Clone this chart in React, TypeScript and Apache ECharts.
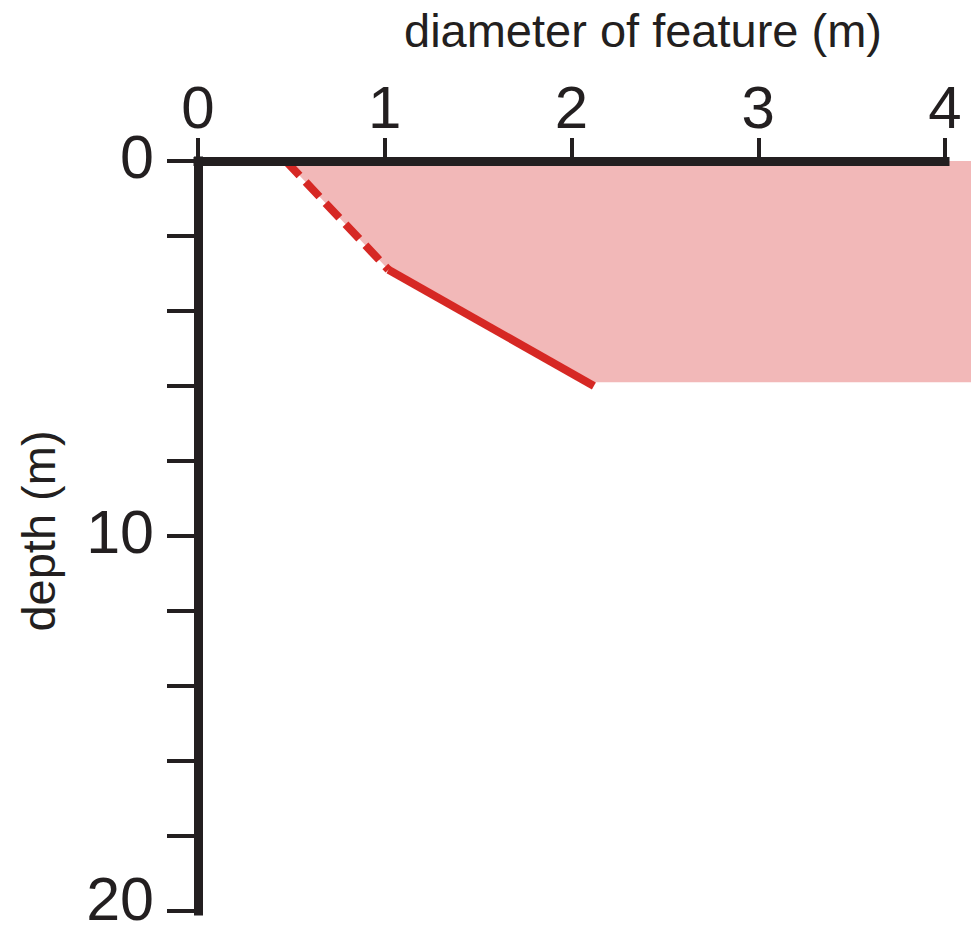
import React, { useEffect, useRef } from "react";
import * as echarts from "echarts";

// Diameter (m) vs depth (m) of the feature
const xTicks = [0, 1, 2, 3, 4];
const depthLabels = [0, 10, 20];

// Inferred (dashed) upper part of the profile
const dashedProfile: [number, number][] = [
  [0.47, 0],
  [1.02, 2.9],
];
// Observed (solid) lower part of the profile
const solidProfile: [number, number][] = [
  [1.02, 2.9],
  [2.12, 6.0],
];
// Shaded extent of the feature
const featureArea: [number, number][] = [
  [0.47, 0],
  [4.14, 0],
  [4.14, 5.9],
  [2.12, 5.9],
  [1.02, 2.9],
];

const INK = "#231f20";
const RED = "#d62824";
const PINK = "#f2b8b8";
const FONT = "Liberation Sans, Arial, sans-serif";
const DEPTH_MAX = 20;

export default function App() {
  const ref = useRef<HTMLDivElement>(null);

  useEffect(() => {
    if (!ref.current) return;
    const chart = echarts.init(ref.current, undefined, { renderer: "svg" });
    chart.setOption({
      animation: false,
      backgroundColor: "#ffffff",
      grid: { left: 198, right: 26, top: 161, bottom: 23 },
      xAxis: {
        type: "value",
        position: "top",
        min: 0,
        max: 4,
        interval: 1,
        z: 5,
        splitLine: { show: false },
        axisLine: { show: true, lineStyle: { color: INK, width: 9, cap: "square" } },
        axisTick: { show: true, length: 23, lineStyle: { color: INK, width: 4 } },
        axisLabel: {
          margin: 24,
          fontSize: 60,
          lineHeight: 60,
          fontFamily: FONT,
          color: INK,
          formatter: (v: number) => (xTicks.includes(v) ? String(v) : ""),
        },
      },
      yAxis: {
        type: "value",
        inverse: true,
        min: 0,
        max: DEPTH_MAX,
        interval: 2,
        z: 5,
        splitLine: { show: false },
        axisLine: { show: true, lineStyle: { color: INK, width: 9, cap: "square" } },
        axisTick: { show: true, length: 31, lineStyle: { color: INK, width: 4 } },
        axisLabel: {
          margin: 44,
          fontSize: 61,
          lineHeight: 8,
          verticalAlign: "bottom",
          fontFamily: FONT,
          color: INK,
          formatter: (v: number) => {
            if (!depthLabels.includes(v)) return "";
            // the bottom label is lifted a little so it stays on the page
            return v === DEPTH_MAX ? `{low|${v}}` : String(v);
          },
          rich: {
            low: { fontSize: 61, fontFamily: FONT, color: INK, lineHeight: 24 },
          },
        },
      },
      graphic: [
        {
          type: "text",
          x: 643,
          y: 30,
          style: {
            text: "diameter of feature (m)",
            font: `47px ${FONT}`,
            fill: INK,
            textAlign: "center",
            textVerticalAlign: "middle",
          },
        },
        {
          type: "text",
          x: 38,
          y: 531,
          rotation: Math.PI / 2,
          style: {
            text: "depth (m)",
            font: `47px ${FONT}`,
            fill: INK,
            textAlign: "center",
            textVerticalAlign: "middle",
          },
        },
      ],
      series: [
        {
          type: "custom",
          clip: false,
          z: 1,
          data: [0],
          renderItem: (_params: any, api: any) => ({
            type: "polygon",
            shape: { points: featureArea.map((p) => api.coord(p)) },
            style: { fill: PINK },
          }),
        },
        {
          type: "line",
          data: dashedProfile,
          symbol: "none",
          z: 2,
          lineStyle: { color: RED, width: 8, type: [20, 9] },
        },
        {
          type: "line",
          data: solidProfile,
          symbol: "none",
          z: 2,
          lineStyle: { color: RED, width: 8 },
        },
      ],
    });
    return () => chart.dispose();
  }, []);

  return (
    <div
      ref={ref}
      style={{ position: "fixed", left: 0, top: 0, width: 971, height: 934 }}
    />
  );
}
